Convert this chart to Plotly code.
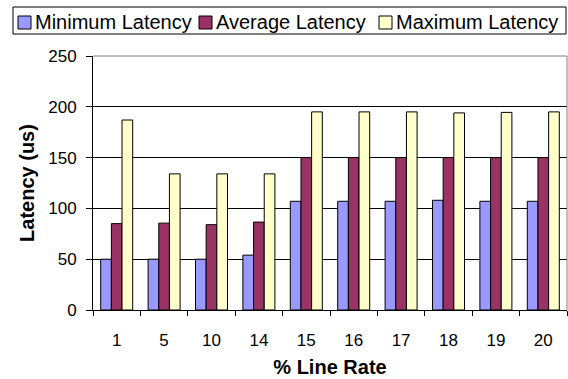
import plotly.graph_objects as go

categories = ["1", "5", "10", "14", "15", "16", "17", "18", "19", "20"]
min_latency = [50, 50, 50, 54, 107, 107, 107, 108, 107, 107]
avg_latency = [85, 85.5, 84, 86.5, 150, 150, 150, 150, 150, 150]
max_latency = [187, 134, 134, 134, 195, 195, 195, 194, 194.5, 195]
series_names = ["Minimum Latency", "Average Latency", "Maximum Latency"]
series_colors = ["#9999FF", "#993366", "#FFFFCC"]
series_values = [min_latency, avg_latency, max_latency]

font = "Arial, Liberation Sans, sans-serif"

# plot area in pixels (for placing the hand-drawn legend box)
L, R, T, B = 93, 567, 56, 310
W, H = 568, 379


def px_x(p):
    return (p - L) / (R - L)


def px_y(p):
    return (B - p) / (B - T)


fig = go.Figure()
for name, vals, color in zip(series_names, series_values, series_colors):
    fig.add_trace(go.Bar(
        x=categories, y=vals, name=name,
        marker=dict(color=color, line=dict(color="black", width=1)),
    ))

fig.update_layout(
    width=W, height=H,
    margin=dict(l=L, r=W - R, t=T, b=H - B),
    paper_bgcolor="white", plot_bgcolor="white",
    barmode="group", bargap=0.325, bargroupgap=0,
    font=dict(family=font, size=17, color="black"),
    showlegend=False,
    xaxis=dict(
        type="category",
        title=dict(text="<b>% Line Rate</b>", font=dict(size=20), standoff=10),
        showline=True, linecolor="black", linewidth=1,
        ticks="outside", ticklen=5, tickcolor="black", tickson="boundaries",
        ticklabelstandoff=15,
        showgrid=False,
    ),
    yaxis=dict(
        title=dict(text="<b>Latency (us)</b>", font=dict(size=20), standoff=8),
        range=[0, 250], dtick=50, tick0=0,
        showline=True, linecolor="black", linewidth=1,
        ticks="outside", ticklen=6, tickcolor="black",
        ticklabelstandoff=6,
        showgrid=True, gridcolor="black", gridwidth=1,
        zeroline=False,
    ),
)

# plot-area border (top and right) in grey
fig.add_shape(type="line", xref="paper", yref="paper", x0=1, x1=1, y0=0, y1=1,
              line=dict(color="#808080", width=1), layer="above")
fig.add_shape(type="line", xref="paper", yref="paper", x0=0, x1=1, y0=1, y1=1,
              line=dict(color="#808080", width=1), layer="above")

# legend drawn by hand to match the tight spacing of the original
fig.add_shape(type="rect", xref="paper", yref="paper",
              x0=px_x(13), x1=px_x(566), y0=px_y(34), y1=px_y(7),
              line=dict(color="black", width=1), fillcolor="white", layer="above")
sym_x = [18, 199, 379]
for name, color, sx in zip(series_names, series_colors, sym_x):
    fig.add_shape(type="rect", xref="paper", yref="paper",
                  x0=px_x(sx), x1=px_x(sx + 13), y0=px_y(29), y1=px_y(16),
                  line=dict(color="black", width=1), fillcolor=color, layer="above")
    fig.add_annotation(xref="paper", yref="paper", x=px_x(sx + 16), y=px_y(21.5),
                       xanchor="left", yanchor="middle", showarrow=False,
                       text=name, font=dict(family=font, size=20, color="black"),
                       borderpad=0)

fig.write_html("out.html", config={"displayModeBar": False},
               post_script="document.body.style.margin='0';")
